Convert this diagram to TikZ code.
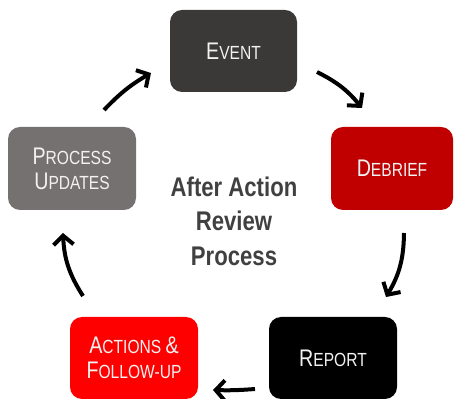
\documentclass[tikz,border=0pt]{standalone}
\usepackage{fontspec}
\setmainfont{Liberation Sans}[FakeStretch=0.82]
\usetikzlibrary{arrows.meta}
\definecolor{eventgray}{HTML}{3B3938}
\definecolor{updategray}{HTML}{767171}
\definecolor{debriefred}{HTML}{C00000}
\definecolor{actionred}{HTML}{FF0000}
\definecolor{titlegray}{HTML}{404040}
\newcommand{\capword}[2]{{\fontsize{24}{25}\selectfont #1}{\fontsize{19}{25}\selectfont #2}}
\begin{document}
\begin{tikzpicture}[x=1pt,y=1pt,
    stage/.style={rounded corners=12pt,minimum width=128pt,minimum height=82pt,inner sep=0pt,align=center,
        font=\fontsize{19}{25}\selectfont,text=white!95!black},
    flow/.style={line width=4pt,-{Straight Barb[length=9pt,width=20pt]}}]
        \useasboundingbox (0,0) rectangle (454,398);
        \node[stage,fill=eventgray,minimum width=127pt] (event) at (233.5,347) {\capword{E}{VENT}};
        \node[stage,fill=debriefred,minimum width=122pt,minimum height=83pt] (debrief) at (392,229.5) {\capword{D}{EBRIEF}};
        \node[stage,fill=black] (report) at (333,40) {\capword{R}{EPORT}};
        \node[stage,fill=actionred] (actions) at (134,40) {\capword{A}{CTIONS}\ {\fontsize{24}{25}\selectfont\&}\\\capword{F}{OLLOW-UP}};
        \node[stage,fill=updategray,minimum height=83pt] (updates) at (72,229.5) {\capword{P}{ROCESS}\\\capword{U}{PDATES}};
        \node[font=\bfseries\fontsize{27}{34.5}\selectfont,text=titlegray,align=center] (title) at (234,177) {After Action\\Review\\Process};
        % arrow ends
        \coordinate (u1) at (104,288);
        \coordinate (e0) at (151,325);
        \coordinate (e1) at (317,326);
        \coordinate (d0) at (362,290);
        \coordinate (d1) at (404,165);
        \coordinate (r0) at (386,101);
        \coordinate (r1) at (255,9);
        \coordinate (a0) at (213,8);
        \coordinate (a1) at (83,102);
        \coordinate (u0) at (63,165);
        \draw[flow] (u1) to[bend left=8] (e0);
        \draw[flow] (e1) to[bend left=12] (d0);
        \draw[flow] (d1) to[bend left=15] (r0);
        \draw[flow] (r1) to[bend left=3] (a0);
        \draw[flow] (a1) to[bend left=15] (u0);
\end{tikzpicture}
\end{document}
